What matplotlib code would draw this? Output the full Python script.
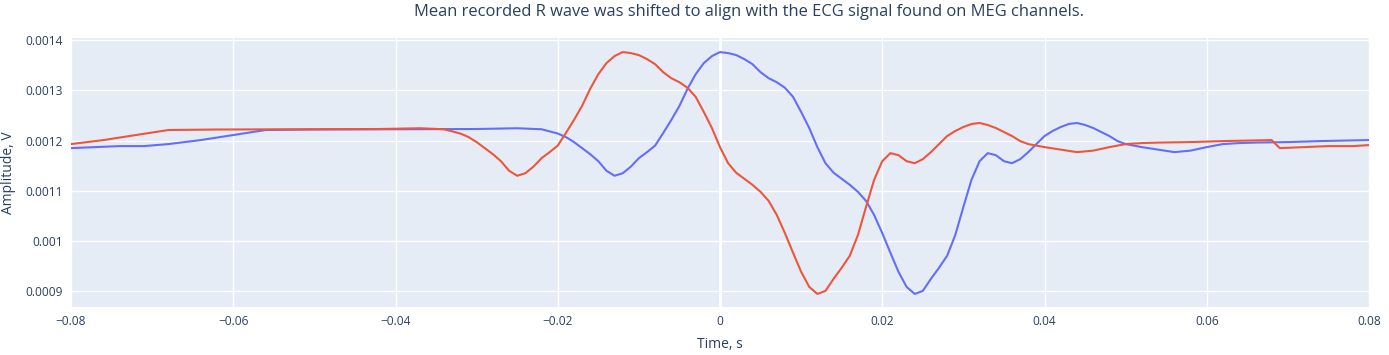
import numpy as np
import matplotlib
matplotlib.use("Agg")
import matplotlib.pyplot as plt

# ---- data (time in ms, amplitude in mV, converted below) ----
ecg_time_ms = [-80, -74, -71, -68, -64, -60, -56, -50, -40, -30, -25, -22, -20, -19,
               -18, -17, -16, -15, -14, -13, -12, -11, -10, -9, -8, -7, -6, -5, -4,
               -3, -2, -1, 0, 1, 2, 3, 4, 5, 6, 7, 8, 9, 10, 11, 12, 13, 14, 15, 16,
               17, 18, 19, 20, 21, 22, 23, 24, 25, 26, 27, 28, 29, 30, 31, 32, 33,
               34, 35, 36, 37, 38, 39, 40, 41, 42, 43, 44, 45, 46, 47, 48, 49, 50,
               52, 54, 56, 58, 60, 62, 64, 66, 70, 74, 80]
ecg_mv = [1.185, 1.189, 1.189, 1.193, 1.201, 1.211, 1.221, 1.222, 1.2225, 1.223,
          1.2245, 1.2225, 1.214, 1.207, 1.197, 1.185, 1.173, 1.159, 1.140, 1.130,
          1.135, 1.148, 1.165, 1.177, 1.190, 1.215, 1.241, 1.269, 1.303, 1.332,
          1.354, 1.368, 1.376, 1.374, 1.370, 1.362, 1.352, 1.336, 1.324, 1.316,
          1.305, 1.287, 1.257, 1.225, 1.187, 1.155, 1.136, 1.124, 1.112, 1.098,
          1.080, 1.052, 1.016, 0.977, 0.939, 0.909, 0.895, 0.901, 0.925, 0.947,
          0.971, 1.012, 1.068, 1.122, 1.159, 1.175, 1.171, 1.159, 1.155, 1.163,
          1.177, 1.193, 1.209, 1.219, 1.227, 1.233, 1.235, 1.231, 1.225, 1.217,
          1.209, 1.199, 1.193, 1.187, 1.182, 1.177, 1.180, 1.187, 1.193, 1.195,
          1.196, 1.197, 1.199, 1.201]

shifted_time_ms = [-80, -76, -72, -68, -62, -52, -42, -37, -34, -32, -31, -30, -29,
                   -28, -27, -26, -25, -24, -23, -22, -21, -20, -19, -18, -17, -16,
                   -15, -14, -13, -12, -11, -10, -9, -8, -7, -6, -5, -4, -3, -2, -1,
                   0, 1, 2, 3, 4, 5, 6, 7, 8, 9, 10, 11, 12, 13, 14, 15, 16, 17, 18,
                   19, 20, 21, 22, 23, 24, 25, 26, 27, 28, 29, 30, 31, 32, 33, 34, 35,
                   36, 37, 38, 40, 42, 44, 46, 48, 50, 52, 54, 58, 62, 68, 69, 75, 78, 80]
shifted_mv = [1.193, 1.201, 1.211, 1.221, 1.222, 1.2225, 1.223, 1.2245, 1.2225,
              1.214, 1.207, 1.197, 1.185, 1.173, 1.159, 1.140, 1.130, 1.135, 1.148,
              1.165, 1.177, 1.190, 1.215, 1.241, 1.269, 1.303, 1.332, 1.354, 1.368,
              1.376, 1.374, 1.370, 1.362, 1.352, 1.336, 1.324, 1.316, 1.305, 1.287,
              1.257, 1.225, 1.187, 1.155, 1.136, 1.124, 1.112, 1.098, 1.080, 1.052,
              1.016, 0.977, 0.939, 0.909, 0.895, 0.901, 0.925, 0.947, 0.971, 1.012,
              1.068, 1.122, 1.159, 1.175, 1.171, 1.159, 1.155, 1.163, 1.177, 1.193,
              1.209, 1.219, 1.227, 1.233, 1.235, 1.231, 1.225, 1.217, 1.209, 1.199,
              1.193, 1.187, 1.182, 1.177, 1.180, 1.187, 1.193, 1.195, 1.196, 1.197,
              1.199, 1.201, 1.185, 1.189, 1.189, 1.191]

x_ticks = [-0.08, -0.06, -0.04, -0.02, 0, 0.02, 0.04, 0.06, 0.08]
x_tick_labels = ["\u22120.08", "\u22120.06", "\u22120.04", "\u22120.02", "0",
                 "0.02", "0.04", "0.06", "0.08"]
y_ticks = [0.0009, 0.001, 0.0011, 0.0012, 0.0013, 0.0014]
y_tick_labels = ["0.0009", "0.001", "0.0011", "0.0012", "0.0013", "0.0014"]

title = "Mean recorded R wave was shifted to align with the ECG signal found on MEG channels."

# ---- plot ----
plt.rcParams['font.family'] = ['Open Sans', 'DejaVu Sans']
W, H = 1389, 355
fig = plt.figure(figsize=(W / 100, H / 100), dpi=100)
ax = fig.add_axes([71 / W, 1 - 307 / H, (1369 - 71) / W, (307 - 38) / H])
ax.set_facecolor("#E5ECF6")

txt = "#2a3f5f"
ax.set_xlim(-0.08, 0.08)
ax.set_ylim(0.000869, 0.001404)
ax.set_xticks(x_ticks)
ax.set_xticklabels(x_tick_labels)
ax.set_yticks(y_ticks)
ax.set_yticklabels(y_tick_labels)
ax.tick_params(length=0, labelsize=8.6, labelcolor=txt, pad=6)
ax.grid(True, color="white", linewidth=1.0)
ax.set_axisbelow(True)
ax.axvline(0, color="white", linewidth=2.0, zorder=1)
for s in ax.spines.values():
    s.set_visible(False)

ax.plot(np.array(ecg_time_ms) / 1000, np.array(ecg_mv) / 1000,
        color="#636EFA", linewidth=1.5, zorder=3)
ax.plot(np.array(shifted_time_ms) / 1000, np.array(shifted_mv) / 1000,
        color="#EF553B", linewidth=1.5, zorder=4)

fig.text(749 / W, 1 - 12 / H, title, ha="center", va="center",
         fontsize=11.9, color=txt)
fig.text(720 / W, 1 - 345 / H, "Time, s", ha="center", va="center",
         fontsize=10, color=txt)
fig.text(9 / W, 1 - 173 / H, "Amplitude, V", ha="center", va="center",
         rotation=90, fontsize=10, color=txt)

fig.savefig("out.png", dpi=100)
